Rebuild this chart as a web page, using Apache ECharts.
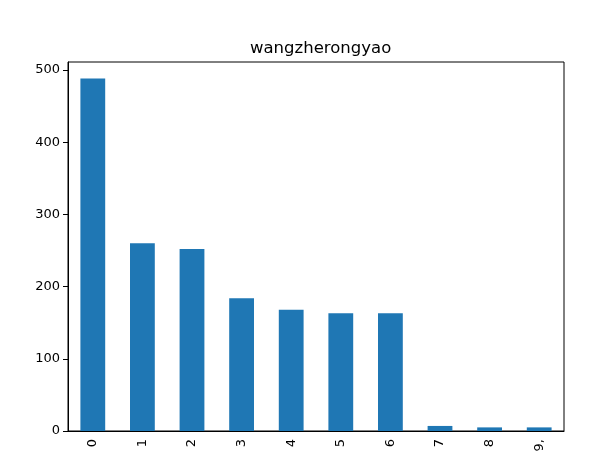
<!DOCTYPE html>
<html><head><meta charset="utf-8">
<script src="https://cdn.jsdelivr.net/npm/echarts@6/dist/echarts.min.js"></script>
<style>html,body{margin:0;padding:0;background:#fff}#c{width:612px;height:476px}</style>
</head><body><div id="c"></div>
<script>
const categories = ['0','1','2','3','4','5','6','7','8','9,'];
const values = [488, 260, 252, 184, 168, 163, 163, 7, 5, 5];
const yTicks = [0, 100, 200, 300, 400, 500];
const titleText = 'wangzherongyao';

const chart = echarts.init(document.getElementById('c'), null, {renderer: 'canvas'});
const font = 'DejaVu Sans';
chart.setOption({
  animation: false,
  backgroundColor: '#fff',
  title: {text: titleText, left: 245, top: 35,
    textStyle: {fontFamily: font, fontSize: 16.5, fontWeight: 'normal', color: '#000'}},
  grid: {left: 68, right: 48, top: 62, bottom: 45, show: true, borderColor: '#000', borderWidth: 1, containLabel: false},
  xAxis: {type: 'category', data: categories, boundaryGap: true,
    axisLine: {lineStyle: {color: '#000', width: 1}},
    axisTick: {alignWithLabel: true, length: 5, lineStyle: {color: '#000'}},
    axisLabel: {rotate: 90, color: '#000', fontFamily: font, fontSize: 13, margin: 8, interval: 0},
    splitLine: {show: false}},
  yAxis: {type: 'value', min: 0, max: 511, interval: 100,
    axisLine: {show: true, lineStyle: {color: '#000', width: 1}},
    axisTick: {show: true, length: 5, lineStyle: {color: '#000'}, customValues: yTicks},
    axisLabel: {color: '#000', fontFamily: font, fontSize: 13, margin: 8, customValues: yTicks},
    splitLine: {show: false}},
  series: [{type: 'bar', data: values, barWidth: '50%', itemStyle: {color: '#1f77b4'}}]
});
</script></body></html>
